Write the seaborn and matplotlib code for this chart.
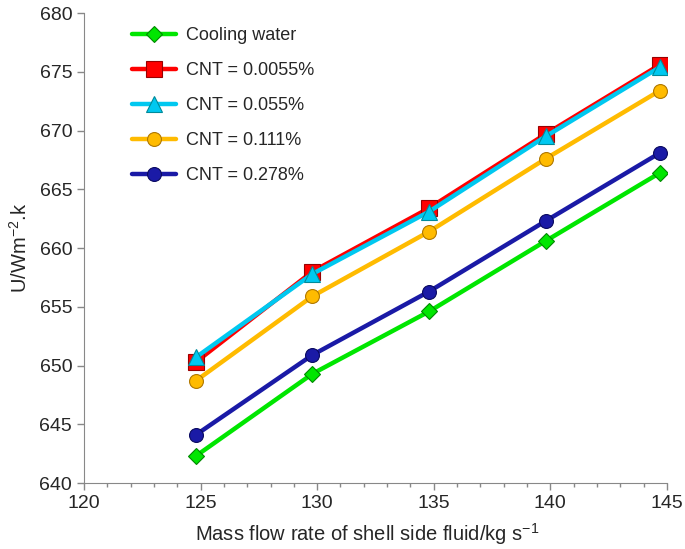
import pandas as pd
import seaborn as sns
import matplotlib.pyplot as plt
from matplotlib.ticker import MultipleLocator

# values
flow = [124.8, 129.8, 134.8, 139.8, 144.7]
series = ['Cooling water', 'CNT = 0.0055%', 'CNT = 0.055%', 'CNT = 0.111%', 'CNT = 0.278%']
cooling = [642.3, 649.3, 654.6, 660.6, 666.4]
cnt_0055 = [650.3, 658.0, 663.4, 669.7, 675.6]
cnt_055 = [650.7, 657.8, 663.1, 669.5, 675.4]
cnt_111 = [648.7, 655.9, 661.4, 667.6, 673.4]
cnt_278 = [644.1, 650.9, 656.3, 662.3, 668.1]

values = [cooling, cnt_0055, cnt_055, cnt_111, cnt_278]
df = pd.DataFrame({
    'flow': flow * len(series),
    'U': sum(values, []),
    'series': [s for s in series for _ in flow],
})

colors = ['#00e600', '#ff0000', '#00c8f0', '#ffbb00', '#1a1aa6']
edges = ['#008800', '#990000', '#008a9a', '#b07800', '#0a0a60']
markers = ['D', 's', '^', 'o', 'o']
msizes = [8, 11, 11, 10, 10]

sns.set_style('ticks')
plt.rcParams['font.family'] = ['Liberation Sans', 'DejaVu Sans']
plt.rcParams['mathtext.fontset'] = 'custom'
plt.rcParams['mathtext.rm'] = 'Liberation Sans'
plt.rcParams['mathtext.it'] = 'Liberation Sans'

fig = plt.figure(figsize=(6.85, 5.49), dpi=100)
ax = fig.add_axes([0.1226, 0.1202, 0.851, 0.856])

for i, s in enumerate(series):
    sub = df[df['series'] == s]
    sns.lineplot(data=sub, x='flow', y='U', ax=ax, color=colors[i], linewidth=3.2,
                 marker=markers[i], markersize=msizes[i], markerfacecolor=colors[i],
                 markeredgecolor=edges[i], markeredgewidth=0.8, label=s, zorder=3 + i)

ax.set_xlim(120, 145)
ax.set_ylim(640, 680)
ax.xaxis.set_major_locator(MultipleLocator(5))
ax.xaxis.set_minor_locator(MultipleLocator(1))
ax.yaxis.set_major_locator(MultipleLocator(5))
ax.tick_params(axis='both', which='major', labelsize=14, length=5, color='#888888', width=1)
ax.tick_params(axis='x', which='minor', length=3, color='#888888', width=1)
for side in ['left', 'bottom']:
    ax.spines[side].set_color('#888888')
sns.despine(ax=ax)

ax.set_xlabel('Mass flow rate of shell side fluid/kg s$^{-1}$', fontsize=14.5)
ax.xaxis.set_label_coords(0.485, -0.08)
ax.set_ylabel('U/Wm$^{-2}$.k', fontsize=14.5, labelpad=6)

leg = ax.legend(loc='upper left', bbox_to_anchor=(0.055, 1.005), frameon=False,
                fontsize=13, labelspacing=1.0, handlelength=2.4, handletextpad=0.55)

fig.savefig('out.png', dpi=100)
